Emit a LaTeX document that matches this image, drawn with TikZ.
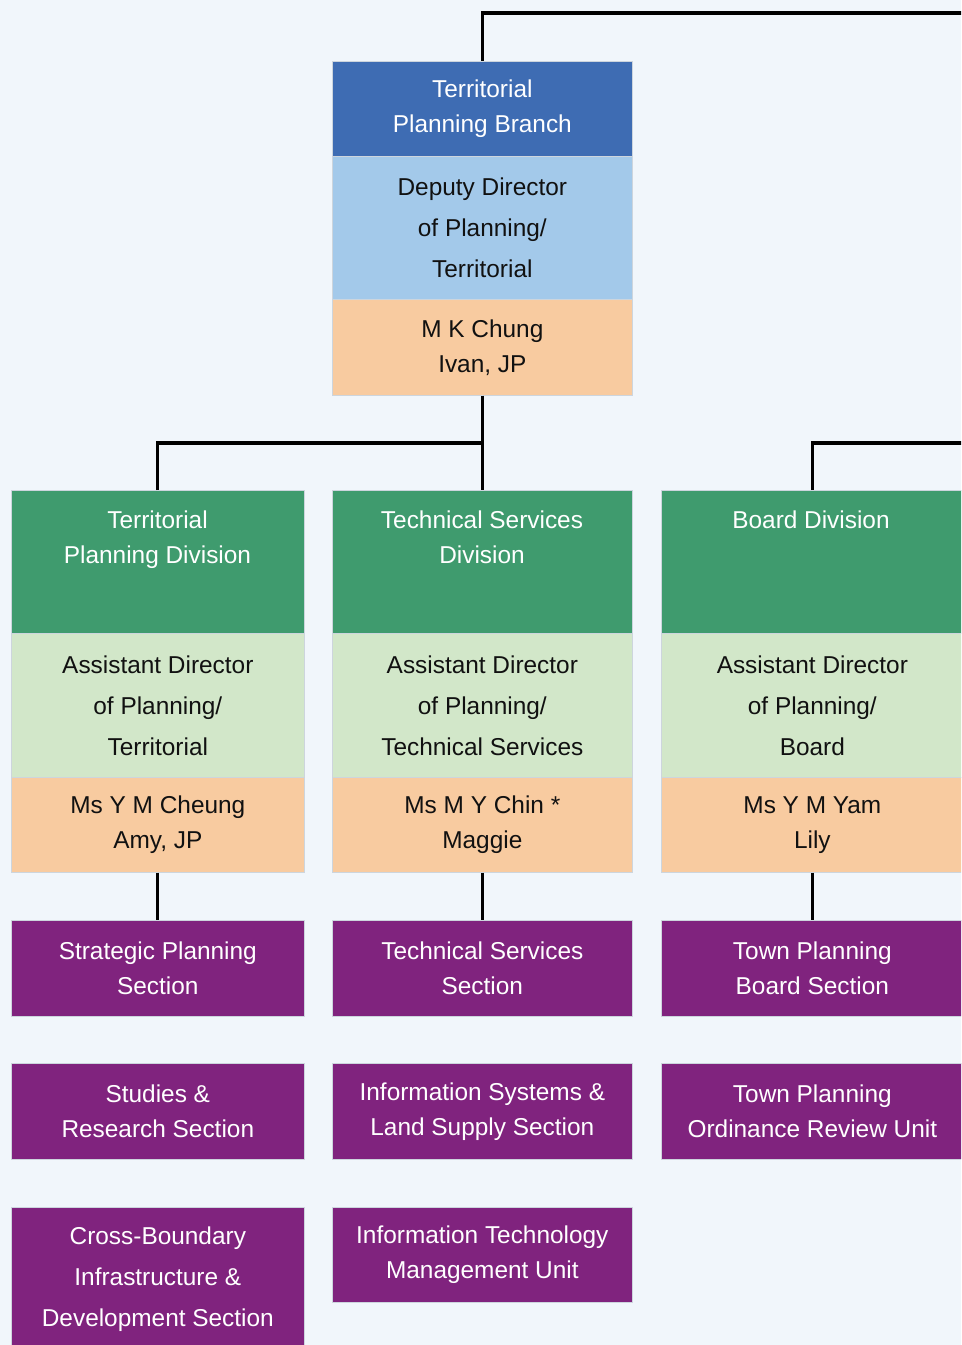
\documentclass[tikz,border=0pt]{standalone}
\usepackage{fontspec}
\setmainfont{Liberation Sans}
\begin{document}
\definecolor{pagebg}{HTML}{F1F6FB}
\definecolor{branchblue}{HTML}{3E6CB3}
\definecolor{roleblue}{HTML}{A3C9EA}
\definecolor{nameorange}{HTML}{F8CBA0}
\definecolor{divgreen}{HTML}{3F9B6E}
\definecolor{rolegreen}{HTML}{D2E7C9}
\definecolor{secpurple}{HTML}{80237E}
\definecolor{celledge}{HTML}{CDD5DD}
\definecolor{inktext}{HTML}{111111}
\begin{tikzpicture}[x=0.75pt,y=-0.75pt,
  cell/.style={draw=celledge, line width=0.5pt, anchor=north west, inner sep=0pt,
    align=center, minimum width=#1},
  cell/.default=225pt,
  twoline/.style={align=center, font=\fontsize{18.3}{26.25}\selectfont},
  threeline/.style={align=center, font=\fontsize{18.3}{30.75}\selectfont},
  head/.style={twoline, text=white},
  dark/.style={text=inktext},
  link/.style={draw=black, line width=2.3pt}]
% canvas
\useasboundingbox (0,0) rectangle (961,1345);
\clip (0,0) rectangle (961,1345);
\fill[pagebg] (0,0) rectangle (961,1345);

% branch head
\node[cell, fill=branchblue, minimum height=71.25pt, head] (tpb) at (332,61) {Territorial\\Planning Branch};
\node[cell, fill=roleblue, minimum height=107.25pt, threeline, dark] (tpbrole) at (332,156) {Deputy Director\\of Planning/\\Territorial};
\node[cell, fill=nameorange, minimum height=72pt, twoline, dark] (tpbname) at (332,299) {M K Chung\\Ivan, JP};

% division headers (text sits near the top)
\node[cell=219.75pt, fill=divgreen, minimum height=107.25pt] (tpd) at (11,490) {};
\node[head] (tpdtext) at (157.5,539.5) {Territorial\\Planning Division};
\node[cell, fill=divgreen, minimum height=107.25pt] (tsd) at (332,490) {};
\node[head] (tsdtext) at (482,537.5) {Technical Services\\Division};
\node[cell=226.5pt, fill=divgreen, minimum height=107.25pt] (bd) at (661,490) {};
\node[head] (bdtext) at (811,520) {Board Division};

% division roles
\node[cell=219.75pt, fill=rolegreen, minimum height=108pt, threeline, dark] (tpdrole) at (11,633) {Assistant Director\\of Planning/\\Territorial};
\node[cell, fill=rolegreen, minimum height=108pt, threeline, dark] (tsdrole) at (332,633) {Assistant Director\\of Planning/\\Technical Services};
\node[cell=226.5pt, fill=rolegreen, minimum height=108pt, threeline, dark] (bdrole) at (661,633) {Assistant Director\\of Planning/\\Board};

% division heads
\node[cell=219.75pt, fill=nameorange, minimum height=71.25pt, twoline, dark] (tpdname) at (11,777) {Ms Y M Cheung\\Amy, JP};
\node[cell, fill=nameorange, minimum height=71.25pt, twoline, dark] (tsdname) at (332,777) {Ms M Y Chin *\\Maggie};
\node[cell=226.5pt, fill=nameorange, minimum height=71.25pt, twoline, dark] (bdname) at (661,777) {Ms Y M Yam\\Lily};

% sections, first row
\node[cell=219.75pt, fill=secpurple, minimum height=72pt, head] (sps) at (11,920) {Strategic Planning\\Section};
\node[cell, fill=secpurple, minimum height=72pt, head] (tss) at (332,920) {Technical Services\\Section};
\node[cell=226.5pt, fill=secpurple, minimum height=72pt, head] (tpbs) at (661,920) {Town Planning\\Board Section};

% sections, second row
\node[cell=219.75pt, fill=secpurple, minimum height=72pt, head] (srs) at (11,1063) {Studies \&\\Research Section};
\node[cell, fill=secpurple, minimum height=72pt, head] (isls) at (332,1063) {Information Systems \&\\Land Supply Section};
\node[cell=226.5pt, fill=secpurple, minimum height=72pt, head] (tpor) at (661,1063) {Town Planning\\Ordinance Review Unit};

% sections, third row
\node[cell=219.75pt, fill=secpurple, minimum height=108pt, threeline, text=white] (cbid) at (11,1207) {Cross-Boundary\\Infrastructure \&\\Development Section};
\node[cell, fill=secpurple, minimum height=71.25pt, head] (itmu) at (332,1207) {Information Technology\\Management Unit};

% connectors
\coordinate (topright) at (970,13);
\coordinate (busmid) at (482,443);
\coordinate (busright) at (970,443);
\draw[link] (tpb.north) |- (topright);
\draw[link] (tpbname.south) -- (tsd.north);
\draw[link] (tpd.north) |- (busmid);
\draw[link] (bd.north) |- (busright);
\draw[link] (tpdname.south) -- (sps.north);
\draw[link] (tsdname.south) -- (tss.north);
\draw[link] (bdname.south) -- (tpbs.north);
\end{tikzpicture}
\end{document}
